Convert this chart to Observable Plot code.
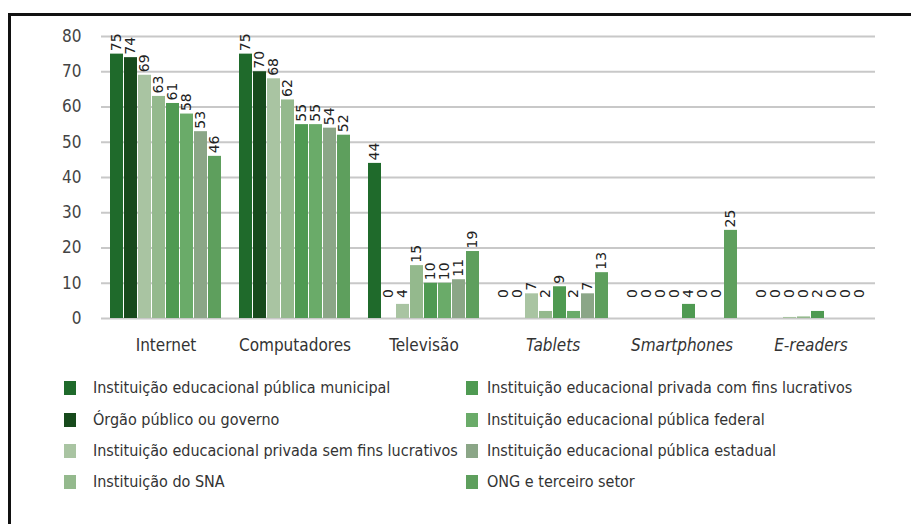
<!DOCTYPE html>
<html>
<head>
<meta charset="utf-8">
<script src="https://cdn.jsdelivr.net/npm/d3@7"></script>
<script src="https://cdn.jsdelivr.net/npm/@observablehq/plot@0.6"></script>
<style>
  html, body { margin: 0; padding: 0; background: #fff; }
  body { width: 911px; height: 524px; position: relative; overflow: hidden;
         font-family: "DejaVu Sans Condensed", "DejaVu Sans", sans-serif; }
  #chart { position: absolute; left: 0; top: 0; }
  #frame { position: absolute; left: 8px; top: 13px; right: -10px; bottom: -10px;
           border-top: 3px solid #111; border-left: 3px solid #111; pointer-events: none; }
  .leg { position: absolute; font-size: 16px; color: #333; white-space: nowrap; line-height: 20px; }
  .sw { position: absolute; width: 12px; height: 14px; }
</style>
</head>
<body>
<div id="chart"></div>
<div id="legend"></div>
<div id="frame"></div>
<script>
const categories = ["Internet", "Computadores", "Televisão", "Tablets", "Smartphones", "E-readers"];
const italicCategories = ["Tablets", "Smartphones", "E-readers"];
const series = [
  "Instituição educacional pública municipal",
  "Órgão público ou governo",
  "Instituição educacional privada sem fins lucrativos",
  "Instituição do SNA",
  "Instituição educacional privada com fins lucrativos",
  "Instituição educacional pública federal",
  "Instituição educacional pública estadual",
  "ONG e terceiro setor"
];
// values per series, in category order
const municipal   = [75, 75, 44, 0, 0, 0];
const orgao       = [74, 70, 0, 0, 0, 0];
const privadaSem  = [69, 68, 4, 7, 0, 0.3];
const sna         = [63, 62, 15, 2, 0, 0.45];
const privadaCom  = [61, 55, 10, 9, 4, 2];
const federal     = [58, 55, 10, 2, 0, 0];
const estadual    = [53, 54, 11, 7, 0, 0];
const ong         = [46, 52, 19, 13, 25, 0];
const seriesValues = [municipal, orgao, privadaSem, sna, privadaCom, federal, estadual, ong];
const yTicks = [0, 10, 20, 30, 40, 50, 60, 70, 80];
const colors = ["#1f6a2b", "#174a1c", "#a9c4a2", "#94b98d", "#4f9a52", "#6aab69", "#8ba687", "#5e9f5d"];

const data = categories.flatMap((c, i) => series.map((s, j) => ({category: c, series: s, value: seriesValues[j][i]})));

const chart = Plot.plot({
  width: 911,
  height: 370,
  marginLeft: 100,
  marginRight: 35,
  marginTop: 36,
  marginBottom: 52,
  style: {fontFamily: '"DejaVu Sans Condensed", "DejaVu Sans", sans-serif', fontSize: "17px", color: "#444", background: "transparent"},
  fx: {domain: categories, padding: 0, axis: null},
  x: {domain: series, paddingInner: 0.06, paddingOuter: 0.5, axis: null},
  y: {domain: [0, 80], ticks: yTicks, tickSize: 0, tickPadding: 20, label: null},
  color: {domain: series, range: colors},
  marks: [
    Plot.ruleY(yTicks, {stroke: "#c8c8c8", strokeWidth: 2}),
    Plot.barY(data, {fx: "category", x: "series", y: "value", fill: "series"}),
    Plot.text(data, {
      fx: "category", x: "series", y: d => Math.max(d.value, 5),
      text: d => String(Math.round(d.value)),
      rotate: -90, textAnchor: "start", lineAnchor: "middle", dy: -3,
      fontSize: 14, fill: "#222", fontFamily: '"DejaVu Sans", sans-serif'
    }),
    Plot.text(categories.filter(c => !italicCategories.includes(c)), {
      fx: d => d, text: d => d, frameAnchor: "bottom", dy: 32, fill: "#333", fontSize: 17
    }),
    Plot.text(italicCategories, {
      fx: d => d, text: d => d, frameAnchor: "bottom", dy: 32, fill: "#333", fontSize: 17, fontStyle: "italic"
    })
  ]
});
document.getElementById("chart").appendChild(chart);

// legend: two columns, column-major
const legend = document.getElementById("legend");
const colX = [{sw: 64, tx: 93}, {sw: 466, tx: 487}];
const rowY = [388, 420, 451, 482];
series.forEach((s, i) => {
  const col = Math.floor(i / 4), row = i % 4;
  const sw = document.createElement("div");
  sw.className = "sw";
  sw.style.left = colX[col].sw + "px";
  sw.style.top = (rowY[row] - 7) + "px";
  sw.style.background = colors[i];
  legend.appendChild(sw);
  const t = document.createElement("div");
  t.className = "leg";
  t.style.left = colX[col].tx + "px";
  t.style.top = (rowY[row] - 10) + "px";
  t.textContent = s;
  legend.appendChild(t);
});
</script>
</body>
</html>
